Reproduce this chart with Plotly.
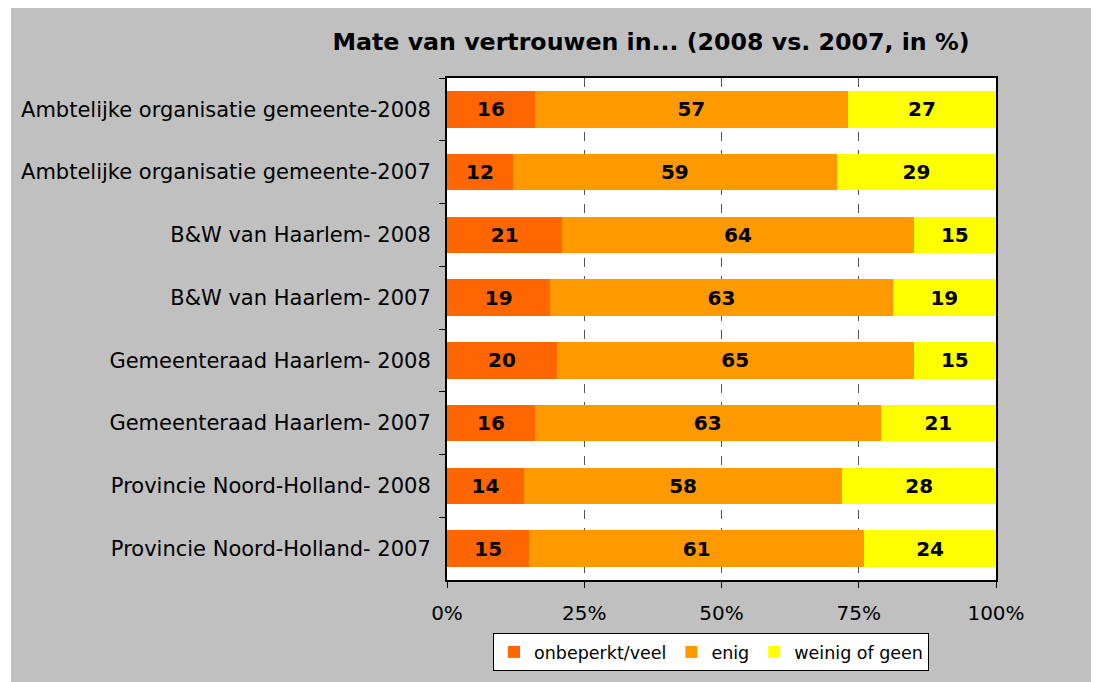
import plotly.graph_objects as go

categories = [
    "Ambtelijke organisatie gemeente-2008",
    "Ambtelijke organisatie gemeente-2007",
    "B&W van Haarlem- 2008",
    "B&W van Haarlem- 2007",
    "Gemeenteraad Haarlem- 2008",
    "Gemeenteraad Haarlem- 2007",
    "Provincie Noord-Holland- 2008",
    "Provincie Noord-Holland- 2007",
]
onbeperkt_veel = [16, 12, 21, 19, 20, 16, 14, 15]
enig = [57, 59, 64, 63, 65, 63, 58, 61]
weinig_of_geen = [27, 29, 15, 19, 15, 21, 28, 24]

series_names = ["onbeperkt/veel", "enig", "weinig of geen"]
series_values = [onbeperkt_veel, enig, weinig_of_geen]
colors = ["#FF6600", "#FF9900", "#FFFF00"]
x_tick_values = [0, 25, 50, 75, 100]
x_tick_labels = ["0%", "25%", "50%", "75%", "100%"]

FONT = "DejaVu Sans"

fig = go.Figure()
for name, vals, col in zip(series_names, series_values, colors):
    fig.add_trace(go.Bar(
        name=name, y=categories, x=vals, orientation="h",
        marker=dict(color=col, line=dict(width=0)),
        text=vals, texttemplate="%{text}", textposition="inside",
        insidetextanchor="middle",
        textfont=dict(family=FONT, size=20, color="black", weight="bold"),
        constraintext="none",
    ))

# page has an 8px body margin: figure coords = page coords - 8
OFF = 8
W, H = 1099 - OFF, 682 - OFF
L = 447 - OFF
R = W - (996 - OFF)
T = 78 - OFF
B = H - (580 - OFF)
pw, ph = W - L - R, H - T - B

def px_x(x_page):
    return (x_page - OFF - L) / pw

def px_y(y_page):
    return (H - B - (y_page - OFF)) / ph

fig.update_layout(
    width=W, height=H,
    barmode="stack", barnorm="percent", bargap=0.42,
    paper_bgcolor="white", plot_bgcolor="rgba(0,0,0,0)",
    margin=dict(l=L, r=R, t=T, b=B, autoexpand=False),
    font=dict(family=FONT, size=21, color="black"),
    title=dict(
        text="<b>Mate van vertrouwen in... (2008 vs. 2007, in %)</b>",
        x=(651 - OFF) / W, xanchor="center", y=1 - (42 - OFF) / H, yanchor="middle",
        font=dict(family=FONT, size=23.7, color="black"),
    ),
    showlegend=True,
    legend=dict(
        orientation="h", x=px_x(711), xanchor="center", y=px_y(652), yanchor="middle",
        bgcolor="white", bordercolor="black", borderwidth=1,
        font=dict(family=FONT, size=17.5, color="black"),
        traceorder="normal", itemwidth=30, tracegroupgap=0,
    ),
    shapes=[
        dict(type="rect", xref="paper", yref="paper", layer="below",
             x0=px_x(11), x1=px_x(1093), y0=px_y(700), y1=px_y(6),
             fillcolor="#C0C0C0", line=dict(width=0)),
        dict(type="rect", xref="paper", yref="paper", layer="below",
             x0=0, x1=1, y0=0, y1=1,
             fillcolor="white", line=dict(width=0)),
    ],
)

fig.update_xaxes(
    range=[0, 100], tickmode="array", tickvals=x_tick_values, ticktext=x_tick_labels,
    showgrid=True, gridcolor="#555555", griddash="dash", gridwidth=1,
    showline=True, linecolor="black", linewidth=2, mirror=True,
    ticks="outside", ticklen=6, tickcolor="black", tickwidth=1,
    ticklabelstandoff=8,
    zeroline=False, tickfont=dict(family=FONT, size=20, color="black"),
)
fig.update_yaxes(
    autorange="reversed", tickson="boundaries",
    showline=True, linecolor="black", linewidth=2, mirror=True,
    ticks="outside", ticklen=6, tickcolor="black", tickwidth=1,
    showgrid=False, ticklabelstandoff=10,
    tickfont=dict(family=FONT, size=21, color="black"),
)

fig.write_html("out.html")
